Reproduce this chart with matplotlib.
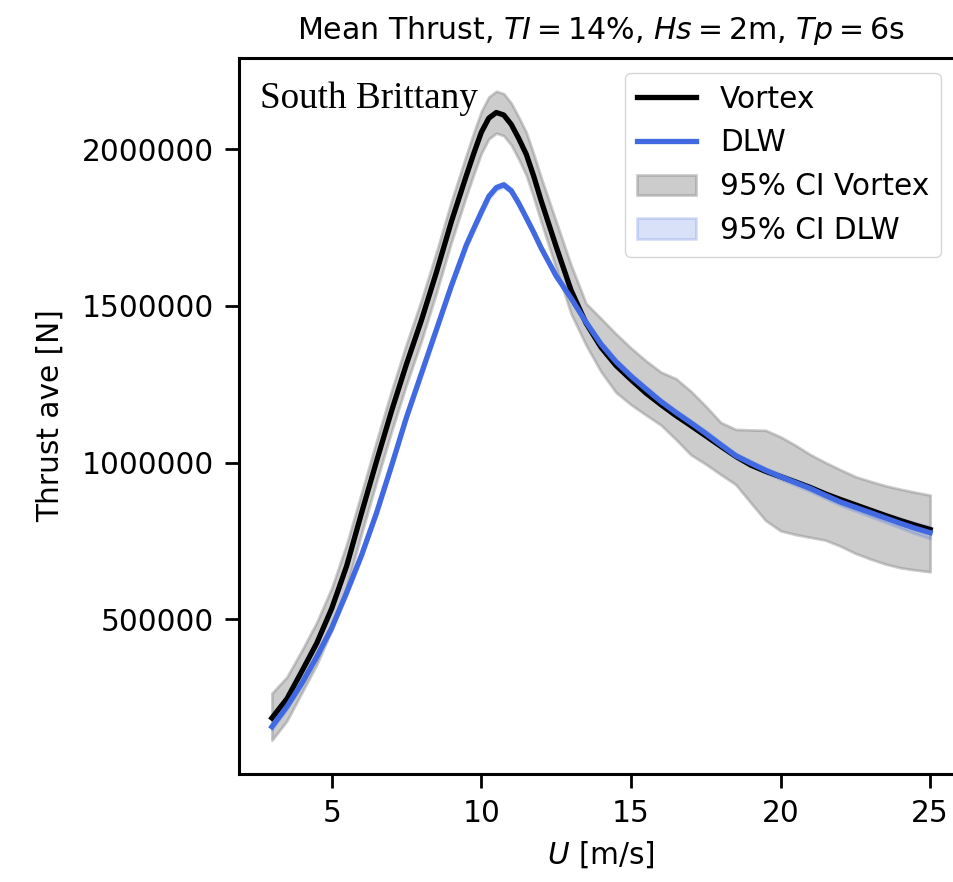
import numpy as np
import matplotlib
matplotlib.use("Agg")
import matplotlib.pyplot as plt

# wind speed grid [m/s]
u = [3.0, 3.5, 4.0, 4.5, 5.0, 5.5, 6.0, 6.5, 7.0, 7.5, 8.0, 8.5, 9.0, 9.5,
     9.75, 10.0, 10.25, 10.5, 10.75, 11.0, 11.25, 11.5, 11.75, 12.0,
     12.5, 13.0, 13.5, 14.0, 14.5, 15.0, 15.5,
     16.0, 16.5, 17.0, 17.5, 18.0, 18.5, 19.0, 19.5, 20.0, 20.5, 21.0, 21.5,
     22.0, 22.5, 23.0, 23.5, 24.0, 24.5, 25.0]

# mean thrust, Vortex [N]
vortex = [184000, 245000, 333000, 423000, 534000, 670000, 840000, 1005000,
          1165000, 1315000, 1455000, 1608000, 1770000, 1917000,
          1988000, 2055000, 2100000, 2118000, 2110000, 2080000, 2035000,
          1985000, 1915000, 1836000,
          1690000, 1550000, 1445000,
          1368000, 1310000, 1265000, 1222000, 1185000, 1150000, 1118000,
          1085000, 1052000, 1020000, 992000, 972000, 955000, 938000, 920000,
          900000, 882000, 865000, 848000, 831000, 815000, 800000, 786000]

# 95% CI Vortex
vortex_lo = [113000, 175000, 265000, 355000, 465000, 605000, 775000, 940000,
             1100000, 1250000, 1390000, 1543000, 1705000, 1852000,
             1922000, 1988000, 2034000, 2052000, 2044000, 2014000, 1969000,
             1918000, 1846000, 1768000,
             1620000, 1475000, 1375000,
             1290000, 1224000, 1185000, 1152000, 1120000, 1074000, 1025000,
             995000, 962000, 930000, 872000, 815000, 782000, 770000, 761000,
             752000, 733000, 710000, 692000, 676000, 664000, 657000, 651000]
vortex_hi = [263000, 315000, 400000, 490000, 600000, 740000, 905000, 1070000,
             1230000, 1380000, 1520000, 1673000, 1835000, 1983000,
             2055000, 2122000, 2168000, 2186000, 2178000, 2148000, 2103000,
             2055000, 1985000, 1910000,
             1770000, 1630000, 1508000,
             1460000, 1411000, 1366000, 1325000, 1289000, 1268000, 1228000,
             1180000, 1128000, 1106000, 1104000, 1103000, 1082000, 1055000,
             1025000, 1000000, 977000, 955000, 940000, 926000, 915000, 905000,
             896000]

# mean thrust, DLW [N]
dlw = [156000, 220000, 295000, 380000, 472000, 585000, 705000, 840000,
       990000, 1145000, 1285000, 1425000, 1565000, 1695000,
       1748000, 1800000, 1850000, 1878000, 1887000, 1868000, 1828000,
       1782000, 1735000, 1685000,
       1596000, 1525000, 1448000,
       1378000, 1322000, 1276000, 1235000, 1195000, 1160000, 1127000,
       1093000, 1057000, 1022000, 998000, 975000, 955000, 936000, 917000,
       895000, 874000, 857000, 840000, 823000, 806000, 790000, 776000]

# 95% CI DLW half width
dlw_ci = [9000, 8000, 8000, 8000, 8000, 8000, 8000, 8000, 8000, 8000, 8000,
          8000, 8000, 8000, 8000, 8000, 8000, 8000, 8000, 8000, 8000, 8000,
          8000, 8000, 8000, 8000, 8000, 8000, 8000, 8000, 8000, 8000, 8000,
          8000, 8000, 8000, 8000, 8000, 8000, 9000, 9000, 10000, 10000,
          11000, 12000, 13000, 14000, 15000, 17000, 19000]

plt.rcParams['font.size'] = 21.3

fig = plt.figure(figsize=(9.54, 8.82), dpi=100)
# right spine sits just outside the picture, as in the reference crop
ax = fig.add_axes([0.2505, 0.1224, 0.759, 0.8118])

dlw_arr = np.array(dlw)
ci_arr = np.array(dlw_ci)

ax.plot(u, vortex, color='black', lw=3.8, label='Vortex', zorder=4)
ax.plot(u, dlw, color='royalblue', lw=3.8, label='DLW', zorder=5)
ax.fill_between(u, vortex_lo, vortex_hi, color='grey', alpha=0.4,
                lw=2, label='95% CI Vortex', zorder=2)
ax.fill_between(u, dlw_arr - ci_arr, dlw_arr + ci_arr, color='royalblue',
                alpha=0.2, lw=2, label='95% CI DLW', zorder=3)

ax.set_xlim(1.9, 26.1)
ax.set_ylim(5000, 2292000)
ax.set_xticks([5, 10, 15, 20, 25])
ax.set_yticks([500000, 1000000, 1500000, 2000000])
ax.ticklabel_format(axis='y', style='plain', useOffset=False)

for s in ax.spines.values():
    s.set_linewidth(2.2)
ax.tick_params(length=10, width=2, pad=8)

ax.set_title(r'Mean Thrust, $TI = 14\%$, $Hs = 2$m, $Tp = 6$s',
             pad=14, fontsize=21.6)
ax.set_xlabel(r'$U$ [m/s]', labelpad=8)
ax.set_ylabel('Thrust ave [N]', labelpad=12)

ax.text(0.029, 0.93, 'South Brittany', transform=ax.transAxes,
        family='Liberation Serif', fontsize=26.7, va='baseline', zorder=6)

ax.legend(loc='upper right', bbox_to_anchor=(0.99, 1.0))

fig.savefig('out.png', dpi=100)
